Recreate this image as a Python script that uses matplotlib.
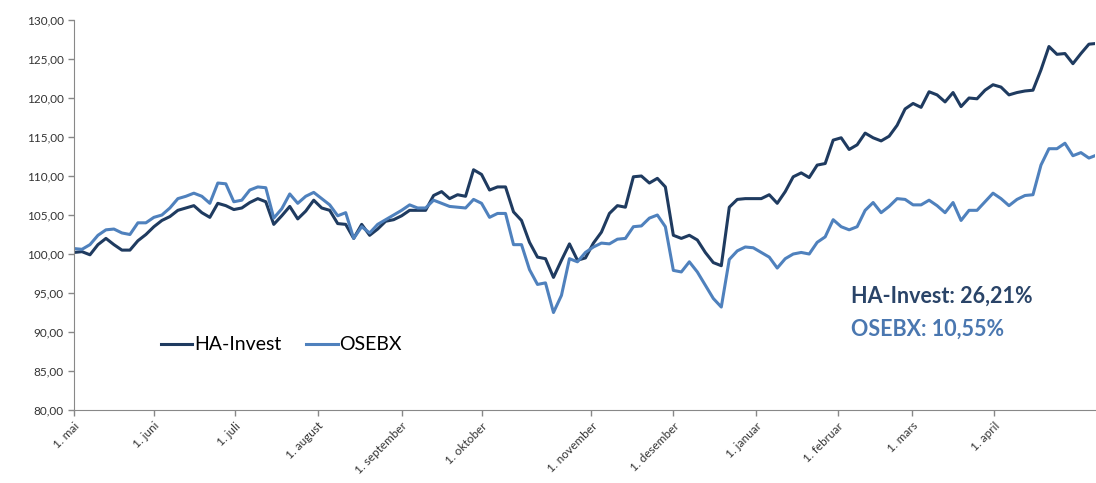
import matplotlib
matplotlib.use('Agg')
import matplotlib.pyplot as plt
import numpy as np

# index values, one point about every second trading day
ha_invest = [100.2, 100.3, 99.9, 101.2, 102.0, 101.2, 100.5, 100.5, 101.7, 102.5,
             103.5, 104.3, 104.8, 105.6, 105.9, 106.2, 105.3, 104.7, 106.5, 106.2,
             105.7, 105.9, 106.6, 107.1, 106.7, 103.8, 104.9, 106.1, 104.5, 105.5,
             106.9, 105.9, 105.6, 103.9, 103.8, 102.0, 103.8, 102.4, 103.2, 104.2,
             104.4, 104.9, 105.6, 105.6, 105.6, 107.5, 108.0, 107.1, 107.6, 107.4,
             110.8, 110.2, 108.2, 108.6, 108.6, 105.4, 104.3, 101.5, 99.6, 99.4,
             97.0, 99.2, 101.3, 99.2, 99.5, 101.4, 102.8, 105.2, 106.2, 106.0,
             109.9, 110.0, 109.1, 109.7, 108.6, 102.4, 102.0, 102.4, 101.8, 100.2,
             98.9, 98.5, 106.0, 107.0, 107.1, 107.1, 107.1, 107.6, 106.5, 108.0,
             109.9, 110.4, 109.8, 111.4, 111.6, 114.6, 114.9, 113.4, 114.0, 115.5,
             114.9, 114.5, 115.1, 116.5, 118.6, 119.3, 118.8, 120.8, 120.4, 119.5,
             120.7, 118.9, 120.0, 119.9, 121.0, 121.7, 121.4, 120.4, 120.7, 120.9,
             121.0, 123.6, 126.6, 125.6, 125.7, 124.4, 125.7, 126.9, 127.0]

osebx = [100.7, 100.6, 101.2, 102.4, 103.1, 103.2, 102.7, 102.5, 104.0, 104.0,
         104.7, 105.0, 105.9, 107.1, 107.4, 107.8, 107.4, 106.5, 109.1, 109.0,
         106.7, 106.9, 108.2, 108.6, 108.5, 104.6, 105.8, 107.7, 106.5, 107.4,
         107.9, 107.1, 106.3, 104.9, 105.3, 102.0, 103.5, 102.7, 103.8, 104.4,
         105.0, 105.6, 106.3, 105.9, 105.9, 106.9, 106.5, 106.1, 106.0, 105.9,
         107.0, 106.5, 104.7, 105.2, 105.2, 101.2, 101.2, 98.0, 96.1, 96.3,
         92.5, 94.7, 99.4, 99.0, 100.2, 100.9, 101.4, 101.3, 101.9, 102.0,
         103.5, 103.6, 104.6, 105.0, 103.5, 97.9, 97.7, 99.0, 97.7, 96.0,
         94.3, 93.2, 99.3, 100.4, 100.9, 100.8, 100.2, 99.6, 98.2, 99.4,
         100.0, 100.2, 100.0, 101.5, 102.2, 104.4, 103.5, 103.1, 103.5, 105.6,
         106.6, 105.3, 106.1, 107.1, 107.0, 106.3, 106.3, 106.9, 106.2, 105.3,
         106.6, 104.3, 105.6, 105.6, 106.7, 107.8, 107.1, 106.2, 107.0, 107.5,
         107.6, 111.4, 113.5, 113.5, 114.2, 112.6, 113.0, 112.3, 112.7]

# month starts, in points of the series above
month_pos = [0, 10, 20.1, 30.5, 41, 51, 64.75, 75, 85.4, 95.6, 104.9, 115.1]
month_labels = ['1. mai', '1. juni', '1. juli', '1. august', '1. september',
                '1. oktober', '1. november', '1. desember', '1. januar',
                '1. februar', '1. mars', '1. april']

ha_return = '26,21%'
osebx_return = '10,55%'

dark = '#1f3b60'
light = '#4f81bd'

plt.rcParams['font.family'] = ['Lato', 'DejaVu Sans']

fig = plt.figure(figsize=(10.96, 4.83), dpi=100)
ax = fig.add_axes([0.0675, 0.1511, 0.9315, 0.8075])

x = np.arange(len(ha_invest))
ax.plot(x, ha_invest, color=dark, lw=2.2, label='HA-Invest')
ax.plot(x, osebx, color=light, lw=2.2, label='OSEBX')

ax.set_xlim(0, 127.75)
ax.set_ylim(80, 130)
ax.set_yticks(np.arange(80, 131, 5))
ax.set_yticklabels(['{:.2f}'.format(v).replace('.', ',') for v in np.arange(80, 131, 5)],
                   fontsize=8.5, color='#333333')
ax.set_xticks(month_pos)
ax.set_xticklabels(month_labels, rotation=45, ha='right', rotation_mode='anchor',
                   fontsize=8.5, color='#333333')

for s in ['top', 'right']:
    ax.spines[s].set_visible(False)
for s in ['left', 'bottom']:
    ax.spines[s].set_color('#888888')
ax.tick_params(colors='#888888', length=4, width=1)
ax.tick_params(axis='x', labelcolor='#333333')
ax.tick_params(axis='y', labelcolor='#333333')

ax.legend(loc='center left', bbox_to_anchor=(0.068, 0.167), ncol=2, frameon=False,
          fontsize=14, handlelength=1.6, handletextpad=0.1, columnspacing=1.3)

ax.text(0.761, 0.291, 'HA-Invest: ' + ha_return, transform=ax.transAxes,
        fontsize=15.5, fontweight='bold', color='#2a4468', va='center')
ax.text(0.761, 0.206, 'OSEBX: ' + osebx_return, transform=ax.transAxes,
        fontsize=15.5, fontweight='bold', color='#4a77b0', va='center')

fig.savefig('out.png', dpi=100)
